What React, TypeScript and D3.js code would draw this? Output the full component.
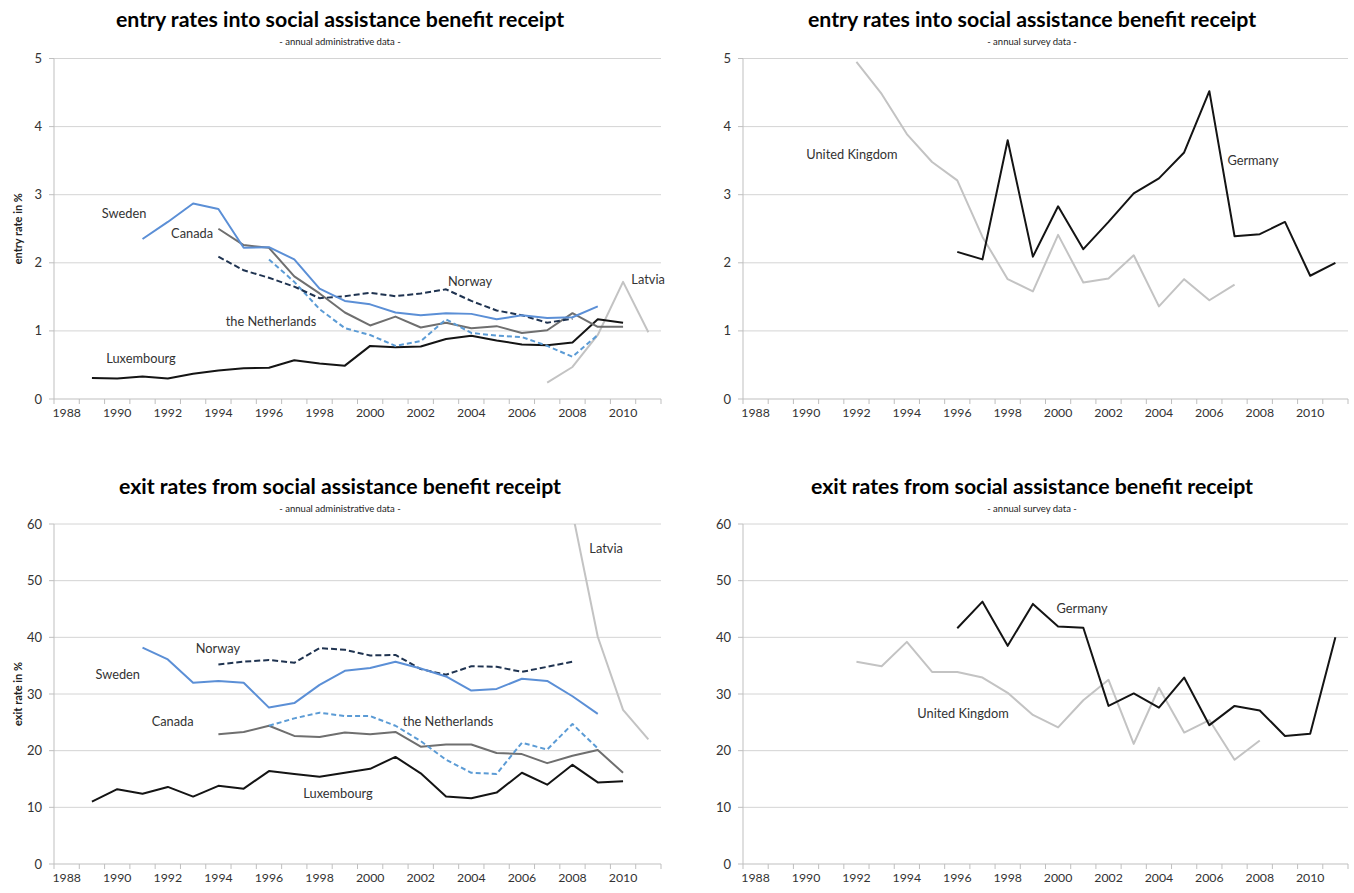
import React from "react";
import * as d3 from "d3";

// ---------- categories & ticks ----------
const years = d3.range(1988, 2012);
const yearTickLabels = [1988, 1990, 1992, 1994, 1996, 1998, 2000, 2002, 2004, 2006, 2008, 2010];
const entryTicks = [0, 1, 2, 3, 4, 5];
const exitTicks = [0, 10, 20, 30, 40, 50, 60];

// ---------- entry rates, administrative data ----------
const entryAdminSweden = { start: 1991, values: [2.35, 2.6, 2.87, 2.79, 2.22, 2.23, 2.05, 1.62, 1.44, 1.39, 1.27, 1.23, 1.26, 1.25, 1.17, 1.23, 1.19, 1.2, 1.36] };
const entryAdminCanada = { start: 1994, values: [2.5, 2.26, 2.22, 1.8, 1.55, 1.27, 1.08, 1.21, 1.05, 1.12, 1.04, 1.07, 0.97, 1.01, 1.26, 1.06, 1.06] };
const entryAdminNorway = { start: 1994, values: [2.09, 1.89, 1.78, 1.65, 1.48, 1.51, 1.56, 1.51, 1.55, 1.61, 1.44, 1.3, 1.23, 1.12, 1.18] };
const entryAdminNetherlands = { start: 1996, values: [2.05, 1.72, 1.32, 1.04, 0.94, 0.78, 0.85, 1.17, 0.97, 0.93, 0.91, 0.78, 0.62, 0.94] };
const entryAdminLuxembourg = { start: 1989, values: [0.31, 0.3, 0.33, 0.3, 0.37, 0.42, 0.45, 0.46, 0.57, 0.52, 0.49, 0.78, 0.76, 0.77, 0.88, 0.93, 0.86, 0.8, 0.79, 0.83, 1.17, 1.12] };
const entryAdminLatvia = { start: 2007, values: [0.24, 0.47, 0.94, 1.72, 0.98] };

// ---------- entry rates, survey data ----------
const entrySurveyUK = { start: 1992, values: [4.95, 4.48, 3.89, 3.48, 3.21, 2.38, 1.76, 1.58, 2.41, 1.71, 1.77, 2.11, 1.36, 1.76, 1.45, 1.68] };
const entrySurveyGermany = { start: 1996, values: [2.16, 2.05, 3.8, 2.09, 2.83, 2.2, 2.6, 3.02, 3.24, 3.62, 4.52, 2.39, 2.42, 2.6, 1.81, 2.0] };

// ---------- exit rates, administrative data ----------
const exitAdminSweden = { start: 1991, values: [38.2, 36.1, 32.0, 32.3, 32.0, 27.6, 28.4, 31.6, 34.1, 34.6, 35.7, 34.5, 33.1, 30.6, 30.9, 32.7, 32.3, 29.6, 26.5] };
const exitAdminNorway = { start: 1994, values: [35.2, 35.7, 36.0, 35.5, 38.1, 37.8, 36.8, 36.9, 34.4, 33.4, 34.9, 34.8, 33.9, 34.8, 35.7] };
const exitAdminCanada = { start: 1994, values: [22.9, 23.3, 24.4, 22.6, 22.4, 23.2, 22.9, 23.3, 20.7, 21.1, 21.1, 19.6, 19.4, 17.8, 19.1, 20.1, 16.1] };
const exitAdminNetherlands = { start: 1996, values: [24.4, 25.7, 26.7, 26.1, 26.1, 24.4, 21.7, 18.4, 16.1, 15.9, 21.4, 20.2, 24.7, 20.4] };
const exitAdminLuxembourg = { start: 1989, values: [11.0, 13.2, 12.4, 13.6, 11.9, 13.8, 13.3, 16.4, 15.9, 15.4, 16.1, 16.8, 18.9, 16.0, 11.9, 11.6, 12.6, 16.1, 14.0, 17.5, 14.4, 14.6] };
const exitAdminLatvia = { start: 2008, values: [62, 40.1, 27.2, 22.0] };

// ---------- exit rates, survey data ----------
const exitSurveyGermany = { start: 1996, values: [41.6, 46.3, 38.5, 45.9, 41.9, 41.7, 27.9, 30.1, 27.6, 32.9, 24.5, 27.9, 27.1, 22.6, 23.0, 40.0] };
const exitSurveyUK = { start: 1992, values: [35.7, 34.9, 39.2, 33.9, 33.9, 32.9, 30.2, 26.3, 24.1, 28.9, 32.5, 21.2, 31.1, 23.2, 25.4, 18.4, 21.8] };

// ---------- styles ----------
const C_BLUE = "#5B8FD6";
const C_LBLUE = "#5B9BD5";
const C_NAVY = "#1F3350";
const C_GRAY = "#6F6F6F";
const C_BLACK = "#141414";
const C_LGRAY = "#C3C3C3";

type Series = { data: { start: number; values: number[] }; color: string; dash?: string };
type Label = { text: string; year: number; value: number };

type PanelProps = {
  id: string;
  left: number; right: number; top: number; bottom: number;
  yMax: number; ticks: number[];
  title: string; subtitle: string; titleX: number; titleY: number;
  yLabel: string;
  series: Series[];
  labels: Label[];
};

const FONT = "Lato, 'Open Sans', sans-serif";

function Panel(p: PanelProps) {
  const x = d3.scaleBand<number>().domain(years).range([p.left, p.right]).padding(0);
  const y = d3.scaleLinear().domain([0, p.yMax]).range([p.bottom, p.top]);
  const cx = (yr: number) => p.left + (yr - 1988 + 0.5) * x.bandwidth();
  const line = d3.line<[number, number]>().x((d) => cx(d[0])).y((d) => y(d[1]));
  return (
    <g>
      <defs>
        <clipPath id={`clip-${p.id}`}>
          <rect x={p.left} y={p.top} width={p.right - p.left} height={p.bottom - p.top} />
        </clipPath>
      </defs>
      <text x={p.titleX} y={p.titleY} textAnchor="middle" fontFamily={FONT} fontWeight={700} fontSize={21.3} fill="#000">{p.title}</text>
      <text x={p.titleX} y={p.titleY + 18} textAnchor="middle" fontFamily={FONT} fontSize={9.5} fill="#222">{p.subtitle}</text>
      {p.ticks.map((t) => (
        <g key={t}>
          {t > 0 && <line x1={p.left} x2={p.right} y1={y(t)} y2={y(t)} stroke="#D4D4D4" strokeWidth={1} />}
          <line x1={p.left - 5} x2={p.left} y1={y(t)} y2={y(t)} stroke="#BFBFBF" strokeWidth={1} />
          <text x={p.left - 12} y={y(t)} dy="0.35em" textAnchor="end" fontFamily={FONT} fontSize={13} fill="#333">{t}</text>
        </g>
      ))}
      <line x1={p.left} x2={p.left} y1={p.top} y2={p.bottom} stroke="#BFBFBF" strokeWidth={1} />
      <line x1={p.left} x2={p.right} y1={p.bottom} y2={p.bottom} stroke="#BFBFBF" strokeWidth={1} />
      {years.concat([2012]).map((yr) => {
        const xx = p.left + (yr - 1988) * x.bandwidth();
        return <line key={yr} x1={xx} x2={xx} y1={p.bottom} y2={p.bottom + 5} stroke="#BFBFBF" strokeWidth={1} />;
      })}
      {yearTickLabels.map((yr) => (
        <text key={yr} x={cx(yr)} y={p.bottom + 18} textAnchor="middle" fontFamily={FONT} fontSize={12.3} fill="#333">{yr}</text>
      ))}
      <text transform={`translate(${18},${(p.top + p.bottom) / 2}) rotate(-90)`} textAnchor="middle" dy="0.35em" fontFamily={FONT} fontWeight={700} fontSize={11} fill="#222">{p.yLabel}</text>
      <g clipPath={`url(#clip-${p.id})`}>
        {p.series.map((s, i) => {
          const pts: [number, number][] = s.data.values.map((v, k) => [s.data.start + k, v]);
          return <path key={i} d={line(pts) || ""} fill="none" stroke={s.color} strokeWidth={2} strokeDasharray={s.dash} strokeLinejoin="round" />;
        })}
      </g>
      {p.labels.map((l) => (
        <text key={l.text} x={cx(l.year)} y={y(l.value)} dy="0.35em" textAnchor="middle" fontFamily={FONT} fontSize={12.8} fill="#333">{l.text}</text>
      ))}
    </g>
  );
}

export default function App() {
  const adminEntrySeries: Series[] = [
    { data: entryAdminLatvia, color: C_LGRAY },
    { data: entryAdminLuxembourg, color: C_BLACK },
    { data: entryAdminCanada, color: C_GRAY },
    { data: entryAdminNetherlands, color: C_LBLUE, dash: "5,3" },
    { data: entryAdminNorway, color: C_NAVY, dash: "6,3" },
    { data: entryAdminSweden, color: C_BLUE },
  ];
  const adminExitSeries: Series[] = [
    { data: exitAdminLatvia, color: C_LGRAY },
    { data: exitAdminLuxembourg, color: C_BLACK },
    { data: exitAdminCanada, color: C_GRAY },
    { data: exitAdminNetherlands, color: C_LBLUE, dash: "5,3" },
    { data: exitAdminNorway, color: C_NAVY, dash: "6,3" },
    { data: exitAdminSweden, color: C_BLUE },
  ];
  return (
    <svg width={1354} height={893} style={{ position: "absolute", left: 0, top: 0, background: "#fff" }}>
      <rect width={1354} height={893} fill="#fff" />
      <Panel id="tl" left={54} right={661} top={58.5} bottom={399} yMax={5} ticks={entryTicks}
        title="entry rates into social assistance benefit receipt" subtitle="- annual administrative data -" titleX={340} titleY={27}
        yLabel="entry rate in %" series={adminEntrySeries}
        labels={[
          { text: "Sweden", year: 1990.27, value: 2.73 },
          { text: "Canada", year: 1992.96, value: 2.43 },
          { text: "Norway", year: 2003.95, value: 1.73 },
          { text: "the Netherlands", year: 1996.08, value: 1.14 },
          { text: "Luxembourg", year: 1990.94, value: 0.59 },
          { text: "Latvia", year: 2010.99, value: 1.76 },
        ]} />
      <Panel id="tr" left={743} right={1348} top={58.5} bottom={399} yMax={5} ticks={entryTicks}
        title="entry rates into social assistance benefit receipt" subtitle="- annual survey data -" titleX={1032} titleY={27}
        yLabel="" series={[
          { data: entrySurveyUK, color: C_LGRAY },
          { data: entrySurveyGermany, color: C_BLACK },
        ]}
        labels={[
          { text: "United Kingdom", year: 1991.82, value: 3.59 },
          { text: "Germany", year: 2007.73, value: 3.5 },
        ]} />
      <Panel id="bl" left={54} right={661} top={524} bottom={864} yMax={60} ticks={exitTicks}
        title="exit rates from social assistance benefit receipt" subtitle="- annual administrative data -" titleX={340} titleY={494}
        yLabel="exit rate in %" series={adminExitSeries}
        labels={[
          { text: "Norway", year: 1993.98, value: 38.1 },
          { text: "Sweden", year: 1990.02, value: 33.5 },
          { text: "Canada", year: 1992.19, value: 25.1 },
          { text: "the Netherlands", year: 2003.08, value: 25.2 },
          { text: "Luxembourg", year: 1998.73, value: 12.5 },
          { text: "Latvia", year: 2009.33, value: 55.6 },
        ]} />
      <Panel id="br" left={743} right={1348} top={524} bottom={864} yMax={60} ticks={exitTicks}
        title="exit rates from social assistance benefit receipt" subtitle="- annual survey data -" titleX={1032} titleY={494}
        yLabel="" series={[
          { data: exitSurveyUK, color: C_LGRAY },
          { data: exitSurveyGermany, color: C_BLACK },
        ]}
        labels={[
          { text: "Germany", year: 2000.95, value: 45.0 },
          { text: "United Kingdom", year: 1996.23, value: 26.6 },
        ]} />
    </svg>
  );
}
